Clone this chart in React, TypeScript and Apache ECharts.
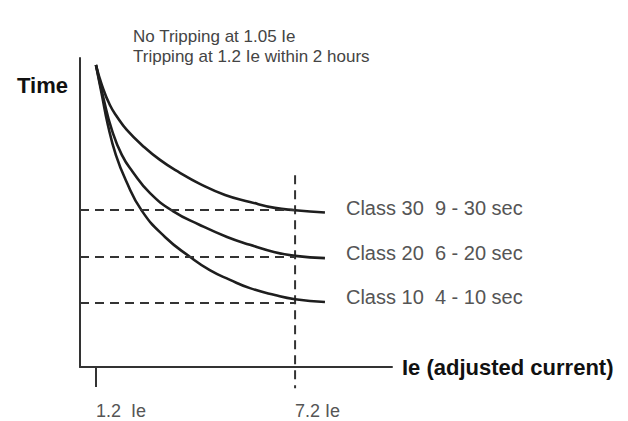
import React, { useEffect, useRef } from "react";
import * as echarts from "echarts";

// ---- data ----
const classNames = ["Class 30", "Class 20", "Class 10"];
const tripRanges = ["9 - 30 sec", "6 - 20 sec", "4 - 10 sec"];
const classLevels = [30, 20, 10];

// x: multiples of Ie, y: relative trip time
const class30Curve = [
  [1.2, 61.5], [1.38, 57.1], [1.62, 52.8], [1.86, 50.0], [2.13, 47.4], [2.59, 44.1],
  [3.13, 40.9], [3.73, 38.1], [4.33, 35.7], [5.09, 33.3], [5.84, 31.8], [6.59, 30.5],
  [7.2, 30.0], [8.1, 29.5],
];
const class20Curve = [
  [1.2, 61.5], [1.44, 53.9], [1.68, 47.4], [1.98, 42.0], [2.31, 38.3], [2.83, 33.7],
  [3.52, 29.8], [4.33, 26.8], [5.15, 24.2], [5.84, 22.5], [6.59, 20.9], [7.2, 20.1],
  [8.1, 19.6],
];
const class10Curve = [
  [1.2, 61.5], [1.38, 55.0], [1.56, 48.5], [1.8, 42.0], [2.1, 36.5], [2.59, 29.8],
  [3.28, 24.2], [4.03, 19.9], [4.63, 17.0], [5.24, 14.9], [5.84, 13.1], [6.59, 11.6],
  [7.2, 10.7], [8.1, 10.1],
];
const curves = [class30Curve, class20Curve, class10Curve];

const tickValues = [1.2, 7.2];
const tickLabels = ["1.2  Ie", "7.2 Ie"];
const solidTickValues = [1.2];
const markerCurrent = 7.2;
const markerTop = 37.6;
const markerBottom = -8.6;
const notes = ["No Tripping at 1.05 Ie", "Tripping at 1.2 Ie within 2 hours"];
const xRange = [0.72, 10.12];
const yRange = [-4, 63];
const xName = "Ie (adjusted current)";
const yName = "Time";

const FONT = "'Liberation Sans', Arial, Helvetica, sans-serif";

export default function App() {
  const ref = useRef<HTMLDivElement>(null);
  useEffect(() => {
    if (!ref.current) return;
    const chart = echarts.init(ref.current, null, { renderer: "svg" });
    const curveSeries = curves.map((data, i) => ({
      type: "line",
      name: classNames[i],
      data,
      showSymbol: false,
      symbol: "none",
      smooth: 0.5,
      lineStyle: { color: "#1e1e1e", width: 2.6 },
      endLabel: {
        show: true,
        formatter: () => `${classNames[i]}  ${tripRanges[i]}`,
        distance: 21,
        offset: [0, -5],
        color: "#555",
        fontSize: 20,
        fontFamily: FONT,
      },
      markLine: {
        silent: true,
        symbol: "none",
        label: { show: false },
        lineStyle: { color: "#333", width: 2, type: [9, 6] },
        data: [[{ coord: [xRange[0], classLevels[i]] }, { coord: [markerCurrent, classLevels[i]] }]],
      },
      z: 3,
    }));
    chart.setOption({
      animation: false,
      backgroundColor: "#fff",
      title: {
        text: notes.join("\n"),
        left: 133,
        top: 26,
        padding: 0,
        textStyle: {
          fontSize: 17,
          fontWeight: "normal",
          color: "#444",
          fontFamily: FONT,
          lineHeight: 20,
        },
      },
      grid: { left: 80, right: 236, top: 58, bottom: 54, outerBoundsMode: "none", containLabel: false },
      xAxis: {
        type: "value",
        min: xRange[0],
        max: xRange[1],
        name: xName,
        nameLocation: "end",
        nameGap: 10,
        nameTextStyle: {
          fontSize: 22,
          fontWeight: "bold",
          color: "#111",
          fontFamily: FONT,
          verticalAlign: "middle",
        },
        axisLine: { show: true, onZero: false, lineStyle: { color: "#333", width: 2 } },
        axisTick: {
          show: true,
          customValues: solidTickValues,
          length: 20,
          lineStyle: { color: "#333", width: 2 },
        },
        axisLabel: {
          show: true,
          customValues: tickValues,
          formatter: (v: number) => tickLabels[tickValues.indexOf(v)] ?? "",
          align: "left",
          margin: 35,
          fontSize: 18,
          color: "#555",
          fontFamily: FONT,
        },
        splitLine: { show: false },
      },
      yAxis: {
        type: "value",
        min: yRange[0],
        max: yRange[1],
        name: yName,
        nameLocation: "end",
        nameGap: -38,
        nameTextStyle: {
          fontSize: 22,
          fontWeight: "bold",
          color: "#111",
          fontFamily: FONT,
          align: "right",
          verticalAlign: "bottom",
          padding: [0, 12, 0, 0],
        },
        axisLine: { show: true, onZero: false, lineStyle: { color: "#333", width: 2 } },
        axisTick: { show: false },
        axisLabel: { show: false },
        splitLine: { show: false },
      },
      series: [
        ...curveSeries,
        {
          type: "line",
          name: "marker",
          data: [[markerCurrent, markerTop], [markerCurrent, markerBottom]],
          showSymbol: false,
          symbol: "none",
          clip: false,
          lineStyle: { color: "#333", width: 2, type: [9, 6] },
          z: 2,
        },
      ],
    });
    return () => chart.dispose();
  }, []);
  return (
    <div
      ref={ref}
      style={{ position: "fixed", left: 0, top: 0, width: 628, height: 421, background: "#fff" }}
    />
  );
}
